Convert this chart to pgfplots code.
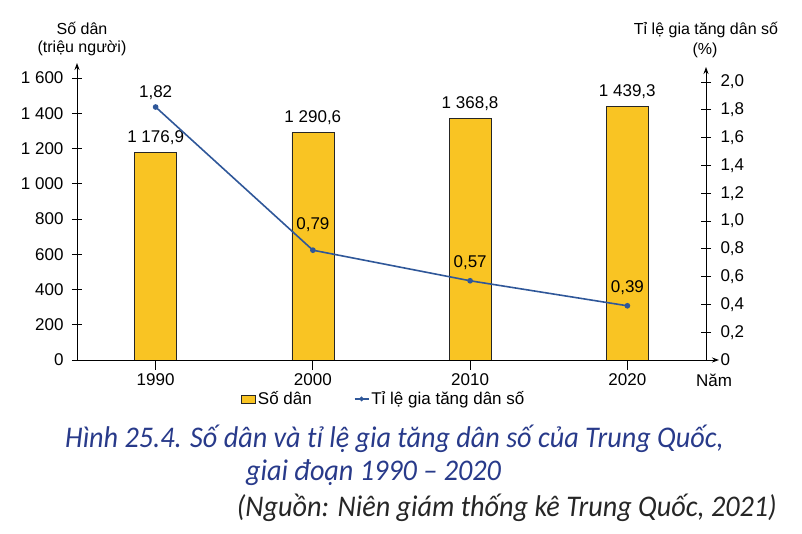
\documentclass[border=0pt]{standalone}
\usepackage{pgfplots}
\pgfplotsset{compat=1.18}
\usepackage{pgfplotstable}
\usepackage{fontspec}
\setmainfont{Liberation Sans}
\newfontfamily\capfont[FakeStretch=0.94]{Carlito}
\usetikzlibrary{arrows.meta}

\definecolor{barY}{RGB}{249,196,35}
\definecolor{lineB}{RGB}{47,87,153}
\definecolor{capB}{RGB}{40,58,138}

\pgfplotsset{
    boxlegend/.style={legend image code/.code={\draw[##1] (0pt,-4pt) rectangle (14pt,4pt);}},
    dotlegend/.style={legend image code/.code={\draw[mark repeat=2, mark phase=2, ##1]
        plot coordinates {(0pt,0pt) (7pt,0pt) (14pt,0pt)};}},
}

\pgfplotstableread{
x pop lab
0 1176.9 {1 176,9}
1 1290.6 {1 290,6}
2 1368.8 {1 368,8}
3 1439.3 {1 439,3}
}\popdata

\pgfplotstableread{
x r lab dy
0 1.82 {1,82} 14
1 0.79 {0,79} 26
2 0.57 {0,57} 18
3 0.39 {0,39} 18
}\ratedata

\newcommand\chartfont{\fontsize{17}{20}\selectfont}

\begin{document}
\begin{tikzpicture}
\useasboundingbox (-77pt,-174pt) rectangle (725pt,360pt);

% so dan (bars, left axis)
\begin{axis}[
    at={(0pt,0pt)}, anchor=south west, scale only axis,
    width=642pt, height=297pt,
    xmin=-0.5, xmax=3.583, ymin=0, ymax=1685,
    axis x line=bottom, axis y line=left,
    axis line style={-{Stealth[length=7pt,width=5pt]}, line width=0.9pt},
    tick align=center, major tick length=10pt,
    tick style={black, line width=0.9pt},
    xtick={0,1,2,3}, xticklabels={1990,2000,2010,2020},
    xtick style={yshift=-5pt},
    xticklabel style={yshift=-5pt},
    ytick={0,200,400,600,800,1000,1200,1400,1600},
    yticklabels={0,200,400,600,800,1 000,1 200,1 400,1 600},
    yticklabel style={xshift=-5pt},
    tick label style={font=\chartfont},
    legend columns=2,
    legend style={at={(0.2555,-0.1313)}, anchor=west, draw=none, fill=none,
        font=\chartfont, inner xsep=0pt,
        /tikz/every even column/.append style={column sep=40pt}},
    legend cell align=left,
]
\addplot[ybar, bar width=42pt, fill=barY, draw=black!85, line width=0.7pt,
    boxlegend,
    nodes near coords, point meta=explicit symbolic,
    nodes near coords style={font=\chartfont, text=black, anchor=center, yshift=15pt}]
    table[x=x, y=pop, meta=lab] {\popdata};
\addlegendentry{Số dân}
\addlegendimage{lineB, line width=1.5pt, mark=*, mark size=1.5pt, dotlegend}
\addlegendentry{Tỉ lệ gia tăng dân số}
\end{axis}

% ti le gia tang (line, right axis)
\begin{axis}[
    at={(0pt,0pt)}, anchor=south west, scale only axis,
    width=629pt, height=293pt,
    xmin=-0.5, xmax=3.5, ymin=0, ymax=2.108,
    axis x line=none, axis y line=right,
    axis line style={-{Stealth[length=7pt,width=5pt]}, line width=0.9pt},
    tick align=center, major tick length=10pt,
    tick style={black, line width=0.9pt},
    ytick={0,0.2,0.4,0.6,0.8,1.0,1.2,1.4,1.6,1.8,2.0},
    yticklabels={0,{0,2},{0,4},{0,6},{0,8},{1,0},{1,2},{1,4},{1,6},{1,8},{2,0}},
    tick label style={font=\chartfont},
    yticklabel style={anchor=west, xshift=6pt},
]
\addplot[lineB, line width=1.6pt, mark=*, mark size=2pt,
    nodes near coords, point meta=explicit symbolic,
    visualization depends on={\thisrow{dy} \as \dy},
    nodes near coords style={font=\chartfont, text=black, anchor=center, yshift=\dy pt}]
    table[x=x, y=r, meta=lab] {\ratedata};
\end{axis}

\node[font=\fontsize{16}{19}\selectfont] at (5pt,332pt) {Số dân};
\node[font=\fontsize{16}{19}\selectfont] at (5pt,312pt) {(triệu người)};
\node[font=\fontsize{16}{19}\selectfont] at (629pt,330pt) {Tỉ lệ gia tăng dân số};
\node[font=\fontsize{16}{19}\selectfont] at (628pt,310pt) {(\%)};
\node[font=\chartfont] at (637pt,-20pt) {Năm};

\node[anchor=base west, inner sep=0pt, text=capB, font=\capfont\itshape\fontsize{30}{34}\selectfont]
    at (-12pt,-88pt) {Hình 25.4. Số dân và tỉ lệ gia tăng dân số của Trung Quốc,};
\node[anchor=base west, inner sep=0pt, text=capB, font=\capfont\itshape\fontsize{30}{34}\selectfont]
    at (169pt,-121pt) {giai đoạn 1990 – 2020};
\node[anchor=base east, inner sep=0pt, text=black!85, font=\capfont\itshape\fontsize{30}{34}\selectfont]
    at (700pt,-157pt) {(Nguồn: Niên giám thống kê Trung Quốc, 2021)};
\end{tikzpicture}
\end{document}
